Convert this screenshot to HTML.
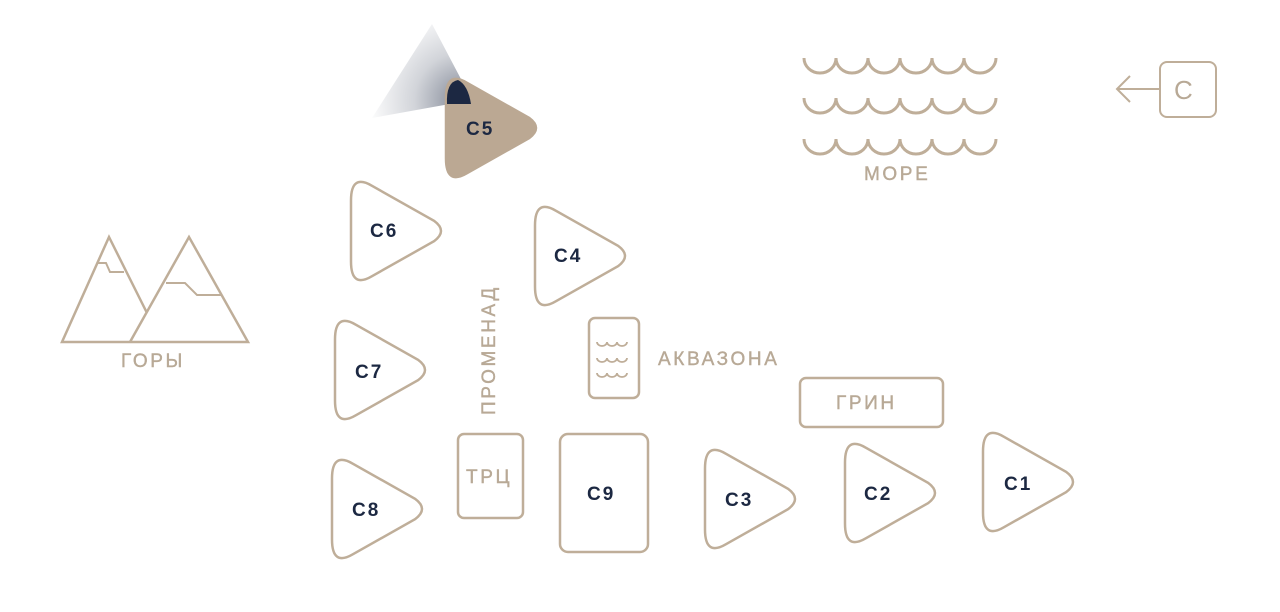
<!DOCTYPE html>
<html><head><meta charset="utf-8"><style>
body{margin:0;background:#fff;}
svg{display:block}
text{font-family:"Liberation Sans",sans-serif;}
.l{fill:#b8a996;font-size:19px;letter-spacing:2.6px;stroke:#b8a996;stroke-width:0.4}
.n{fill:#1c2842;font-size:19px;font-weight:bold;letter-spacing:2px}
</style></head><body>
<svg width="1280" height="612" viewBox="0 0 1280 612">
<defs>
<path id="tri" d="M0,20.5 Q0,-6.6 21,5.8 L83,40.8 Q97,51 83,61.2 L21,96.2 Q0,108.6 0,81.5 Z"/>
<radialGradient id="g" cx="462" cy="100" r="95" gradientUnits="userSpaceOnUse">
<stop offset="0" stop-color="#1c2842" stop-opacity="0.55"/><stop offset="0.5" stop-color="#1c2842" stop-opacity="0.2"/><stop offset="1" stop-color="#1c2842" stop-opacity="0"/></radialGradient>
</defs>
<g fill="none" stroke="#bfae99" stroke-width="2.5">
<polygon points="372,118 432,24 472,100" fill="url(#g)" stroke="none"/>
<use href="#tri" x="446" y="77" fill="#bba893" stroke="#bba893"/>
<path d="M447,104 Q446,82 458,80 Q468,85 471,104 Z" fill="#1c2842" stroke="none"/>
<use href="#tri" x="351" y="180"/>
<use href="#tri" x="535" y="205"/>
<use href="#tri" x="335" y="319"/>
<use href="#tri" x="332" y="458"/>
<use href="#tri" x="705" y="448"/>
<use href="#tri" x="845" y="442"/>
<use href="#tri" x="983" y="431"/>
<rect x="458" y="434" width="65" height="84" rx="6"/>
<rect x="560" y="434" width="88" height="118" rx="8"/>
<rect x="800" y="378" width="143" height="49" rx="6"/>
<rect x="589" y="318" width="50" height="80" rx="6"/>
<path d="M597,342 a5,4 0 0 0 10,0 a5,4 0 0 0 10,0 a5,4 0 0 0 10,0 M597,358 a5,4 0 0 0 10,0 a5,4 0 0 0 10,0 a5,4 0 0 0 10,0 M597,373 a5,4 0 0 0 10,0 a5,4 0 0 0 10,0 a5,4 0 0 0 10,0" stroke-width="1.8"/>
<rect x="1160" y="62" width="56" height="55" rx="7" stroke-width="2"/>
<path d="M1160,89 H1117 M1130,76 L1117,89 L1130,102" stroke-width="2"/>
<path d="M804,58 a16,15 0 0 0 32,0 a16,15 0 0 0 32,0 a16,15 0 0 0 32,0 a16,15 0 0 0 32,0 a16,15 0 0 0 32,0 a16,15 0 0 0 32,0" stroke-width="3"/>
<path d="M804,98 a16,15 0 0 0 32,0 a16,15 0 0 0 32,0 a16,15 0 0 0 32,0 a16,15 0 0 0 32,0 a16,15 0 0 0 32,0 a16,15 0 0 0 32,0" stroke-width="3"/>
<path d="M804,139 a16,15 0 0 0 32,0 a16,15 0 0 0 32,0 a16,15 0 0 0 32,0 a16,15 0 0 0 32,0 a16,15 0 0 0 32,0 a16,15 0 0 0 32,0" stroke-width="3"/>
<path d="M147,313 L109,237 L62,342 H248 L189,237 L130,342"/>
<path d="M98,263 H106 L110,272 H124 M166,283 H185 L197,295 H221" stroke-width="2"/>
</g>
<text class="n" x="466" y="135">C5</text>
<text class="n" x="370" y="237">C6</text>
<text class="n" x="554" y="262">C4</text>
<text class="n" x="355" y="378">C7</text>
<text class="n" x="352" y="516">C8</text>
<text class="n" x="587" y="500">C9</text>
<text class="n" x="725" y="506">C3</text>
<text class="n" x="864" y="500">C2</text>
<text class="n" x="1004" y="490">C1</text>
<text class="l" x="466" y="483">ТРЦ</text>
<text class="l" x="836" y="409">ГРИН</text>
<text class="l" x="658" y="365">АКВАЗОНА</text>
<text class="l" x="864" y="180">МОРЕ</text>
<text class="l" x="121" y="367">ГОРЫ</text>
<text class="l" transform="translate(495,415) rotate(-90)">ПРОМЕНАД</text>
<text x="1174" y="99" fill="#b8a996" font-size="26">C</text>
</svg>
</body></html>
